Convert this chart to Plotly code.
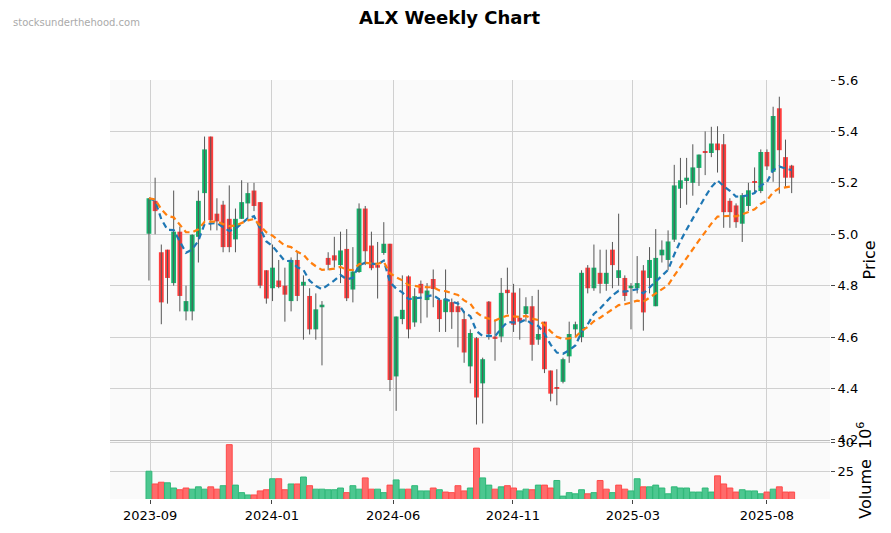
import plotly.graph_objects as go
import pandas as pd

opens = [5.002,5.13,4.93,4.94,4.81,5.01,4.70,4.70,4.99,5.16,5.38,5.08,5.115,5.06,4.98,5.06,5.12,5.17,5.125,4.86,
         4.79,4.82,4.80,4.74,4.90,4.80,4.76,4.63,4.716,4.908,4.918,4.88,4.943,4.785,4.853,5.10,4.956,4.88,4.927,4.963,
         4.447,4.67,4.836,4.657,4.807,4.744,4.826,4.745,4.697,4.736,4.72,4.67,4.486,4.596,4.42,4.738,4.602,4.602,4.784,4.773,
         4.675,4.69,4.72,4.59,4.66,4.47,4.404,4.426,4.525,4.63,4.60,4.87,4.79,4.85,4.807,4.94,4.83,4.83,4.79,4.79,
         4.859,4.83,4.72,4.918,4.90,4.979,5.177,5.207,5.20,5.258,5.32,5.316,5.353,5.35,5.13,5.112,5.041,5.11,5.203,5.168,
         5.32,5.243,5.49,5.30,5.267]
closes = [5.14,5.09,4.735,4.83,5.01,4.76,4.74,4.998,5.13,5.33,5.055,5.05,4.95,4.95,5.06,5.125,5.16,5.11,4.80,4.75,
          4.87,4.795,4.765,4.90,4.76,4.815,4.63,4.708,4.726,4.881,4.898,4.937,4.751,4.855,5.10,4.934,4.868,4.87,4.963,4.433,
          4.68,4.706,4.63,4.759,4.77,4.781,4.787,4.67,4.749,4.697,4.697,4.54,4.616,4.365,4.514,4.612,4.593,4.772,4.771,4.648,
          4.66,4.72,4.57,4.612,4.475,4.38,4.40,4.514,4.612,4.65,4.85,4.79,4.87,4.807,4.85,4.88,4.86,4.76,4.80,4.81,
          4.696,4.90,4.908,4.94,4.972,5.19,5.21,5.22,5.26,5.31,5.318,5.353,5.327,5.086,5.086,5.047,5.152,5.171,5.20,5.32,
          5.264,5.46,5.327,5.22,5.22]
highs = [5.14,5.22,4.96,4.94,5.17,5.03,4.80,5.00,5.17,5.38,5.38,5.14,5.13,5.19,5.10,5.21,5.20,5.20,5.125,4.86,
         4.96,4.90,4.87,4.91,4.93,4.84,4.79,4.77,4.74,4.93,4.99,5.01,5.02,4.95,5.12,5.11,5.01,4.97,5.047,4.963,
         4.68,4.84,4.84,4.79,4.82,4.81,4.863,4.75,4.863,4.75,4.74,4.70,4.63,4.60,4.52,4.74,4.664,4.83,4.87,4.807,
         4.79,4.755,4.76,4.784,4.66,4.47,4.475,4.52,4.66,4.66,4.86,4.88,4.96,4.94,4.94,4.97,5.08,4.84,4.81,4.915,
         4.88,4.95,5.02,4.976,5.015,5.27,5.297,5.297,5.35,5.31,5.40,5.418,5.42,5.39,5.14,5.12,5.16,5.20,5.26,5.33,
         5.33,5.496,5.535,5.368,5.27]
lows = [4.82,5.00,4.65,4.73,4.80,4.70,4.665,4.665,4.89,5.05,5.015,5.015,4.93,4.93,4.93,5.06,5.06,5.09,4.79,4.73,
        4.74,4.79,4.66,4.70,4.74,4.59,4.61,4.59,4.49,4.86,4.87,4.81,4.74,4.735,4.85,4.88,4.86,4.75,4.92,4.39,
        4.313,4.65,4.595,4.64,4.654,4.676,4.716,4.62,4.62,4.632,4.56,4.50,4.42,4.26,4.264,4.59,4.508,4.58,4.69,4.62,
        4.59,4.66,4.508,4.57,4.46,4.35,4.335,4.42,4.50,4.60,4.58,4.77,4.78,4.77,4.78,4.79,4.80,4.74,4.63,4.77,
        4.625,4.77,4.72,4.89,4.86,4.97,5.102,5.115,5.15,5.188,5.23,5.30,5.24,5.025,5.025,5.025,4.97,5.09,5.16,5.16,
        5.25,5.204,5.158,5.184,5.16]
volumes = [25.0,22.8,23.1,23.0,22.1,21.8,22.1,21.9,22.3,21.9,22.3,21.9,22.5,29.6,22.6,21.3,20.9,20.9,21.6,21.8,
           23.7,23.7,21.8,22.8,22.8,24.0,22.5,21.9,21.9,21.8,21.8,22.1,21.3,22.5,21.9,23.85,21.9,21.9,21.3,22.6,
           23.5,21.9,21.9,22.5,21.6,21.6,22.1,21.8,21.4,21.3,22.5,21.6,22.1,29.0,23.85,22.6,21.9,22.3,22.5,22.1,
           21.6,21.9,21.8,22.6,22.6,22.1,23.4,20.7,21.3,21.1,21.8,21.1,21.3,23.4,21.9,21.3,22.6,21.9,21.6,23.7,
           22.3,22.3,22.6,22.1,21.1,22.3,22.1,22.1,21.4,21.4,22.1,21.4,24.2,22.8,22.1,21.4,21.8,21.6,21.6,21.1,
           21.4,21.9,22.3,21.4,21.4]
vol_up = "GRRGGRRGGGRRGRGGGRRRGRRGRGRGGGGGRGGRRGGRGGRGGGRGRRRRGRGGRGRRGGRGRRGGGGGRGRRGRRGGRGGGGGGGGGGGRRRRGGGGRGRRR"
tick_pos = [0.2, 19.9, 39.5, 58.9, 78.3, 100.0]
tick_text = ["2023-09", "2024-01", "2024-06", "2024-11", "2025-03", "2025-08"]

x = list(range(len(closes)))
s = pd.Series(closes)
ema_fast = s.ewm(span=10, adjust=False).mean()
ema_slow = s.ewm(span=20, adjust=False).mean()

GREEN, RED = "#14b36c", "#ff3d3d"
fig = go.Figure()
wx, wy = [], []
for i in x:
    wx += [i, i, None]
    wy += [lows[i], highs[i], None]
fig.add_trace(go.Scatter(x=wx, y=wy, mode="lines", line=dict(color="#555555", width=1),
                         showlegend=False, hoverinfo="skip"))
base = [min(o, c) for o, c in zip(opens, closes)]
height = [max(abs(c - o), 0.004) for o, c in zip(opens, closes)]
bcol = [GREEN if c >= o else RED for o, c in zip(opens, closes)]
fig.add_trace(go.Bar(x=x, y=height, base=base, width=0.78, marker=dict(color=bcol, line=dict(width=0)),
                     showlegend=False, yaxis="y"))
fig.add_trace(go.Scatter(x=x, y=ema_fast, mode="lines", line=dict(color="#1f77b4", width=2.2, dash="6px,4px"), showlegend=False))
fig.add_trace(go.Scatter(x=x, y=ema_slow, mode="lines", line=dict(color="#ff7f0e", width=2.2, dash="6px,4px"), showlegend=False))
vcols = ["#4cc790" if c == "G" else "#ff6b6b" for c in vol_up]
vline = ["#2fb878" if c == "G" else "#ff4a4a" for c in vol_up]
fig.add_trace(go.Bar(x=x, y=volumes, marker=dict(color=vcols, line=dict(color=vline, width=1)),
                     width=0.95, yaxis="y2", showlegend=False))

fig.update_layout(
    width=883, height=525, paper_bgcolor="white", plot_bgcolor="#fafafa",
    margin=dict(l=102, r=61, t=72, b=34, autoexpand=False),
    font=dict(family="DejaVu Sans", size=13, color="black"),
    title=dict(text="<b>ALX Weekly Chart</b>", x=0.5, xanchor="center", y=0.981, yanchor="middle",
               font=dict(size=18)),
    xaxis=dict(range=[-6.3, 110.2], tickvals=tick_pos, ticktext=tick_text, showgrid=True,
               gridcolor="#d0d0d0", anchor="y2", automargin=False,
               ticks="outside", ticklen=4, zeroline=False, showline=False),
    yaxis=dict(domain=[0.141, 1], range=[4.2, 5.6], dtick=0.2, tickformat=".1f", side="right",
               gridcolor="#d0d0d0", title=dict(text="Price", standoff=6), ticks="outside", ticklen=4,
               zeroline=False, anchor="x", automargin=False),
    yaxis2=dict(domain=[0, 0.138], range=[20.2, 30.2], tickvals=[25, 30], side="right",
                gridcolor="#d0d0d0", title=dict(text="Volume  10<sup>6</sup>", standoff=6), ticks="outside",
                ticklen=4, zeroline=False, anchor="x", automargin=False),
    bargap=0.05, barmode="overlay",
    annotations=[dict(text="stocksunderthehood.com", xref="paper", yref="paper", x=-0.1375, y=1.138,
                      xanchor="left", yanchor="middle", showarrow=False,
                      font=dict(size=10, color="#aaaaaa"))],
    shapes=[dict(type="line", xref="paper", yref="paper", x0=0, x1=1, y0=0.1395, y1=0.1395,
                 line=dict(color="#bbbbbb", width=1))],
)
fig.write_html("out.html")
